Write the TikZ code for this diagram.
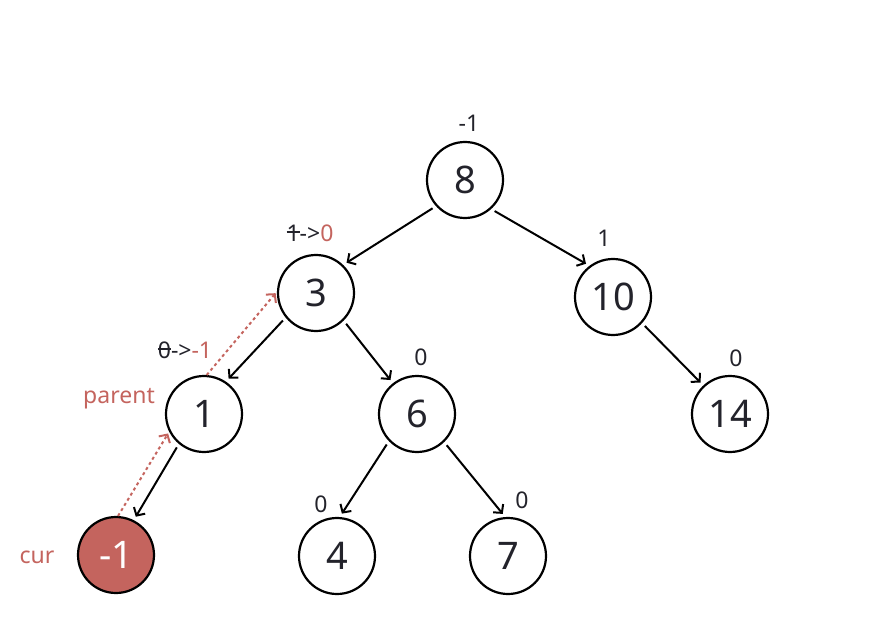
\documentclass[tikz,border=0pt]{standalone}
\usepackage{fontspec}
\setmainfont{Noto Sans}
\usetikzlibrary{arrows.meta}

\definecolor{hlred}{HTML}{C4645E}
\definecolor{ink}{HTML}{23232B}
\newsavebox\strkbox
\newcommand\strk[1]{\sbox\strkbox{#1}\rlap{\usebox\strkbox}\rule[0.36em]{\wd\strkbox}{0.07em}}

\begin{document}
\begin{tikzpicture}[
  x=1pt, y=-1pt, >={Straight Barb[length=6pt,width=13pt]},
  tnode/.style   = {draw, circle, line width=2.2pt, minimum size=76pt, inner sep=0pt,
                    font=\fontsize{38}{40}\selectfont, text=ink},
  curnode/.style = {tnode, fill=hlred, text=white},
  tag/.style     = {font=\fontsize{23}{25}\selectfont, text=ink, inner sep=0pt},
  redtag/.style  = {tag, text=hlred},
  edge/.style    = {->, line width=2pt, shorten <=4pt, shorten >=4pt},
  link/.style    = {->, hlred, line width=2pt, dash pattern=on 3pt off 3pt, shorten >=2pt},
]
  \useasboundingbox (0,0) rectangle (875,644);

  % tree nodes
  \node[tnode]   (n8)  at (465,180) {8};
  \node[tnode]   (n3)  at (316,293) {3};
  \node[tnode]   (n10) at (613,297) {10};
  \node[tnode]   (n1)  at (204,414) {1};
  \node[tnode]   (n6)  at (417,414) {6};
  \node[tnode]   (n14) at (730,414) {14};
  \node[curnode] (cur) at (116,555) {-1};
  \node[tnode]   (n4)  at (337,556) {4};
  \node[tnode]   (n7)  at (508,556) {7};

  % balance factors
  \node[tag] (b8)  at (469,123) {-1};
  \node[tag] (b3)  at (310,233) {\strk{1}->\textcolor{hlred}{0}};
  \node[tag] (b10) at (604,238) {1};
  \node[tag] (b1)  at (185,350) {\strk{0}->\textcolor{hlred}{-1}};
  \node[tag] (b6)  at (421,357) {0};
  \node[tag] (b14) at (736,358) {0};
  \node[tag] (b4)  at (321,504) {0};
  \node[tag] (b7)  at (522,500) {0};

  \node[redtag] (lparent) at (119,399) {parent};
  \node[redtag] (lcur)    at (37,557)  {cur};

  \foreach \a/\p/\b/\q in {n8/222/n3/46, n8/312/n10/127, n3/219/n1/56, n3/315/n6/128,
                           n10/318/n14/133, n1/230/cur/63, n6/224/n4/86, n6/314/n7/94}
    \draw[edge] (\a.\p) -- (\b.\q);

  % walking back up
  \draw[link] (cur.87) -- (n1.207);
  \draw[link] (n1.86) -- (n3.178);
\end{tikzpicture}
\end{document}
